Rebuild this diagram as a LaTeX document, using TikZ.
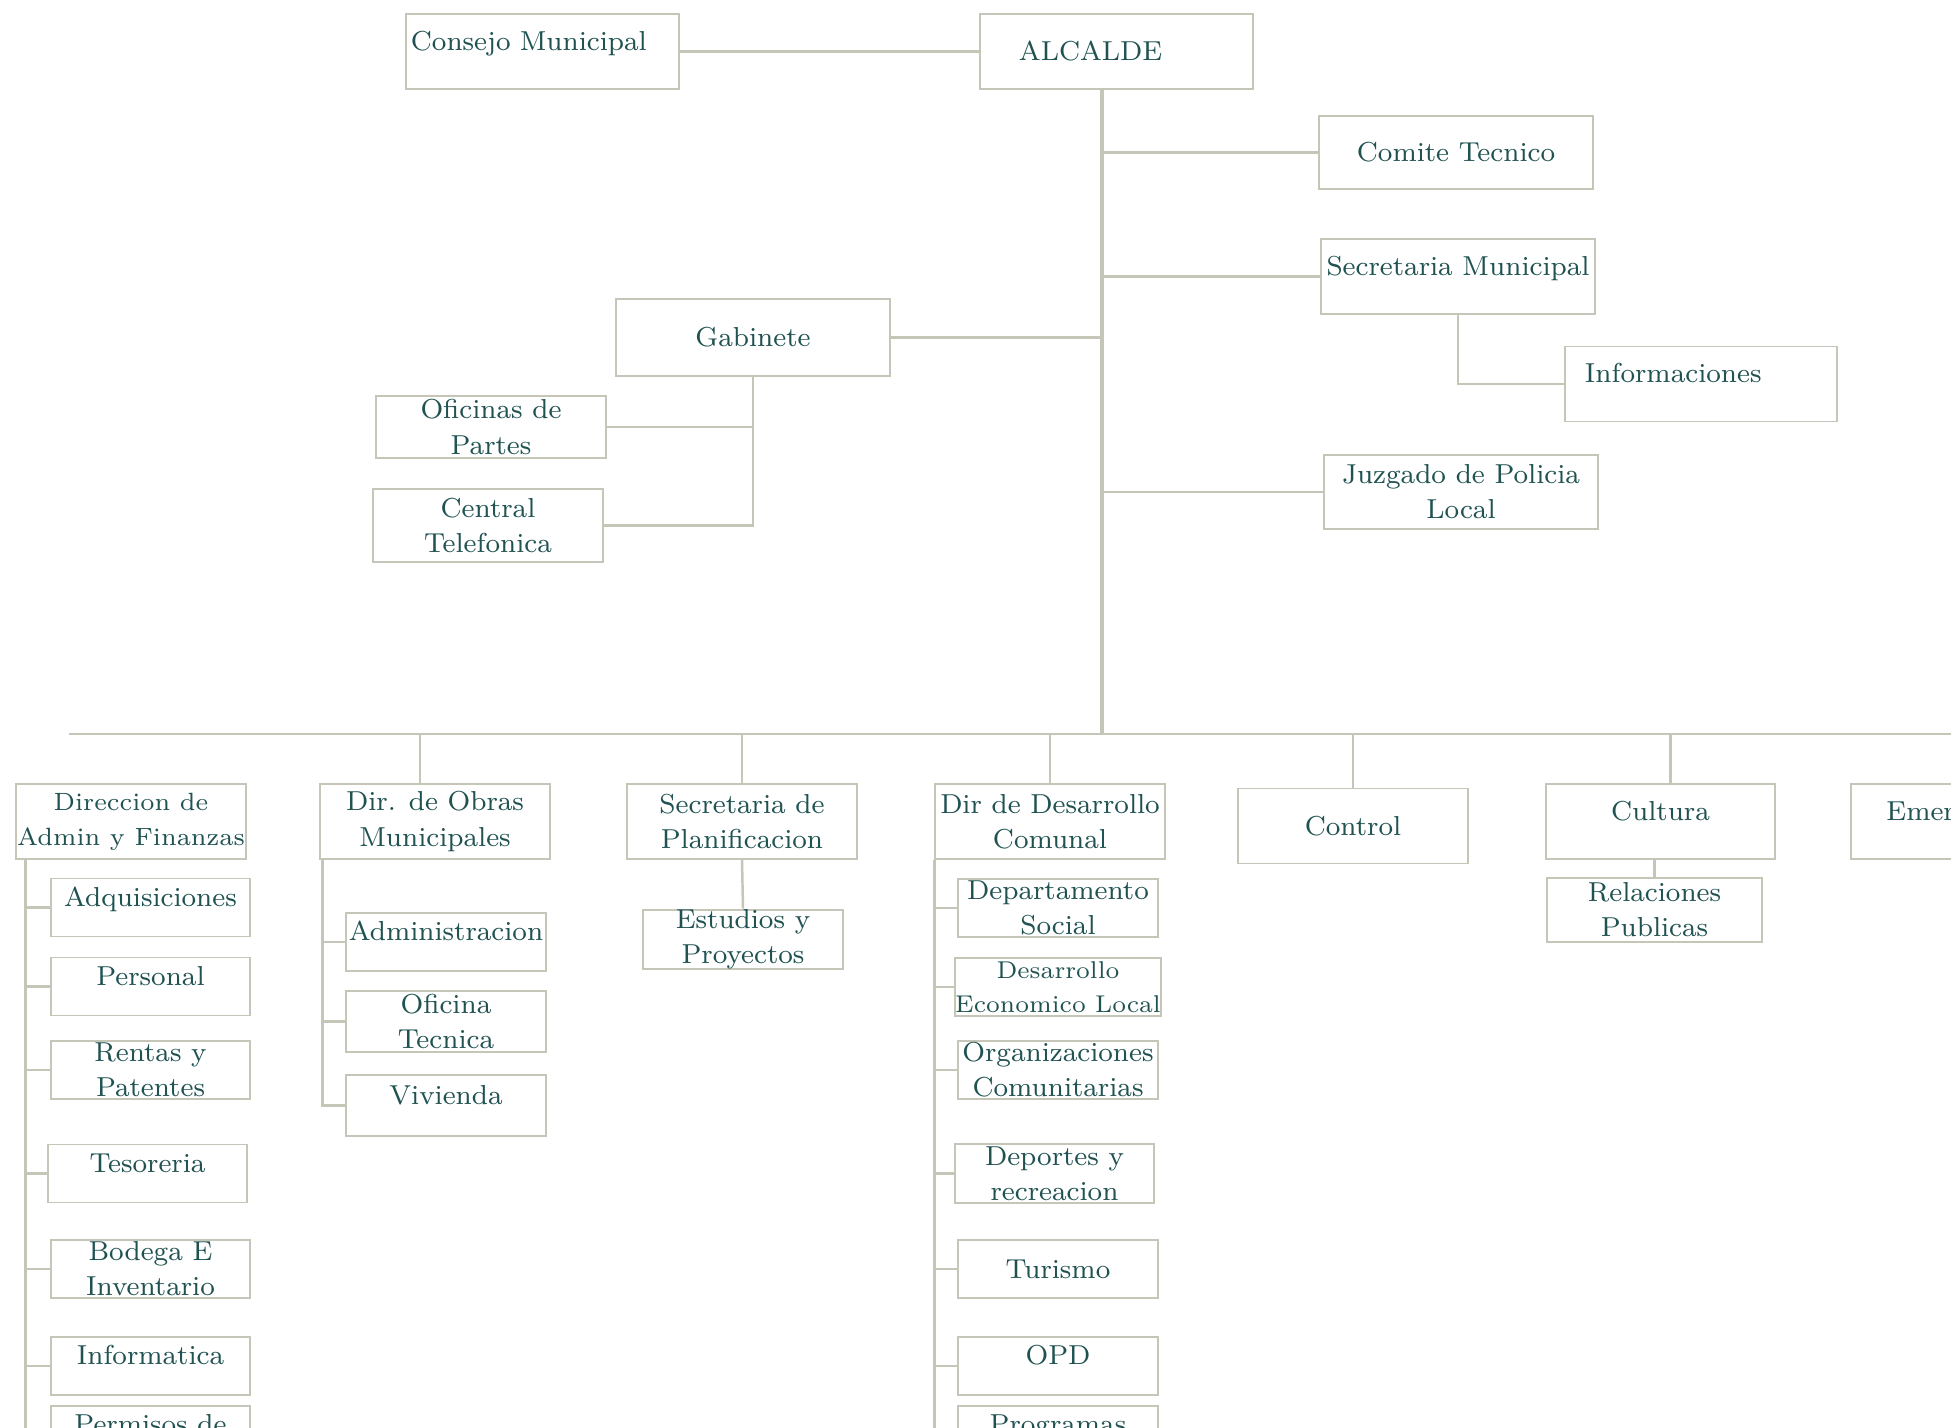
\documentclass[tikz,border=0pt]{standalone}
\usepackage{tikz}
\definecolor{linegray}{RGB}{198,198,184}
\definecolor{inkteal}{RGB}{32,82,82}

\begin{document}
\begin{tikzpicture}[x=0.01cm,y=-0.01cm,
  unit/.style={draw=linegray,line width=0.55pt,inner sep=0pt,align=center,text=inkteal,
    font=\fontsize{7.8}{10}\selectfont,minimum width=2.29cm,minimum height=0.75cm},
  big/.style={unit,minimum width=2.73cm},
  sub/.style={unit,minimum width=1.98cm,minimum height=0.58cm},
  upper/.style={text height=6pt,text depth=6.6pt},
  link/.style={draw=linegray,line width=0.7pt},
  trunk/.style={draw=linegray,line width=1.4pt}]

  \useasboundingbox (0,0) rectangle (1951,1428);
  \fill[white] (0,0) rectangle (1951,1428);
  \clip (0,0) rectangle (1951,1428);

  % top of the chart
  \node[big,upper,text width=2.63cm,align=left] (consejo) at (542.5,51.5) {Consejo Municipal};
  \node[big,text width=1.95cm,align=left] (alcalde) at (1116.5,51.5) {ALCALDE};
  \node[big,minimum height=0.73cm] (comite) at (1456,152.5) {Comite Tecnico};
  \node[big,upper] (secmun) at (1458,276.5) {Secretaria Municipal};
  \node[big,upper,minimum width=2.72cm,text width=2.32cm,align=left] (info) at (1701,384) {Informaciones};
  \node[big,minimum height=0.74cm] (juzgado) at (1461,492) {Juzgado de Policia\\Local};
  \node[big,minimum height=0.77cm] (gabinete) at (753,337.5) {Gabinete};
  \node[unit,minimum width=2.30cm,minimum height=0.62cm] (oficinas) at (491,427) {Oficinas de\\Partes};
  \node[unit,minimum width=2.30cm,minimum height=0.73cm] (central) at (488,525.5) {Central\\Telefonica};

  \coordinate (hub) at (1102,734);
  \coordinate (busleft) at (69,734);
  \coordinate (busright) at (2100,734);

  % direcciones
  \node[unit,font=\fontsize{7.1}{10}\selectfont] (admin) at (131,821.5) {Direccion de\\Admin y Finanzas};
  \node[unit] (obras) at (435,821.5) {Dir. de Obras\\Municipales};
  \node[unit] (secplan) at (742,821.5) {Secretaria de\\Planificacion};
  \node[unit] (dirdes) at (1050,821.5) {Dir de Desarrollo\\Comunal};
  \node[unit] (control) at (1353,826) {Control};
  \node[unit,upper] (cultura) at (1660.5,821.5) {Cultura};
  \node[unit,upper] (emerg) at (1966,821.5) {Emergencias};

  % admin y finanzas
  \node[sub,upper] (adquis) at (150.5,907.5) {Adquisiciones};
  \node[sub,upper] (personal) at (150.5,986.5) {Personal};
  \node[sub] (rentas) at (150.5,1070) {Rentas y\\Patentes};
  \node[sub,upper] (tesoreria) at (147.5,1173.5) {Tesoreria};
  \node[sub] (bodega) at (150.5,1269) {Bodega E\\Inventario};
  \node[sub,upper] (informat) at (150.5,1366) {Informatica};
  \node[sub,upper] (permisos) at (150.5,1435) {Permisos de};

  % obras
  \node[sub,minimum width=2cm,upper] (administ) at (446,942) {Administracion};
  \node[sub,minimum width=2cm,minimum height=0.61cm] (ofitec) at (446,1021.5) {Oficina\\Tecnica};
  \node[sub,minimum width=2cm,minimum height=0.61cm,upper] (vivienda) at (446,1105.5) {Vivienda};

  \node[sub,minimum width=2cm,minimum height=0.59cm] (estudios) at (743,939.5) {Estudios y\\Proyectos};

  % desarrollo comunal
  \node[sub,minimum width=2cm] (deptosoc) at (1058,908) {Departamento\\Social};
  \node[sub,minimum width=2cm,font=\fontsize{6.9}{9.6}\selectfont] (deseco) at (1058,987) {Desarrollo\\Economico Local};
  \node[sub,minimum width=2cm] (orgcom) at (1058,1070) {Organizaciones\\Comunitarias};
  \node[sub,minimum height=0.59cm] (deportes) at (1054.5,1173.5) {Deportes y\\recreacion};
  \node[sub,minimum width=2cm] (turismo) at (1058,1269) {Turismo};
  \node[sub,minimum width=2cm,upper] (opd) at (1058,1366) {OPD};
  \node[sub,minimum width=2cm,upper] (programas) at (1058,1435) {Programas};

  \node[sub,minimum width=2.15cm,minimum height=0.64cm] (relaciones) at (1654.5,910) {Relaciones\\Publicas};

  % connectors
  \draw[link] (consejo.east) -- (alcalde.west);
  \draw[trunk] (alcalde.south -| hub) -- (hub);
  \draw[link] (comite.west) -- (comite.west -| hub)
    (secmun.west) -- (secmun.west -| hub)
    (gabinete.east) -- (gabinete.east -| hub)
    (juzgado.west) -- (juzgado.west -| hub);
  \draw[link] (secmun.south) |- (info.west);
  \draw[link] (gabinete.south) |- (central.east)
    (oficinas.east) -- (oficinas.east -| gabinete.south);

  \draw[link] (busleft) -- (busright);
  \draw[link] ([xshift=-1.5mm]obras.north) -- ([xshift=-1.5mm]obras.north |- hub)
    (secplan.north) -- (secplan.north |- hub)
    (dirdes.north) -- (dirdes.north |- hub)
    (control.north) -- (control.north |- hub)
    ([xshift=1mm]cultura.north) -- ([xshift=1mm]cultura.north |- hub)
    (emerg.north) -- (emerg.north |- hub);

  \coordinate (admtop) at ([xshift=1mm]admin.south west);
  \draw[link] (admtop) -- ++(0,700)
    (adquis.west) -- (adquis.west -| admtop)
    (personal.west) -- (personal.west -| admtop)
    (rentas.west) -- (rentas.west -| admtop)
    (tesoreria.west) -- (tesoreria.west -| admtop)
    (bodega.west) -- (bodega.west -| admtop)
    (informat.west) -- (informat.west -| admtop)
    (permisos.west) -- (permisos.west -| admtop);

  \coordinate (obrtop) at ([xshift=0.3mm]obras.south west);
  \draw[link] (obrtop) |- (vivienda.west)
    (administ.west) -- (administ.west -| obrtop)
    (ofitec.west) -- (ofitec.west -| obrtop);

  \draw[link] (secplan.south) -- (estudios.north);

  \draw[link] (dirdes.south west) -- ++(0,700)
    (deptosoc.west) -- (deptosoc.west -| dirdes.west)
    (deseco.west) -- (deseco.west -| dirdes.west)
    (orgcom.west) -- (orgcom.west -| dirdes.west)
    (deportes.west) -- (deportes.west -| dirdes.west)
    (turismo.west) -- (turismo.west -| dirdes.west)
    (opd.west) -- (opd.west -| dirdes.west)
    (programas.west) -- (programas.west -| dirdes.west);

  \draw[link] (relaciones.north) -- (relaciones.north |- cultura.south);
\end{tikzpicture}
\end{document}
